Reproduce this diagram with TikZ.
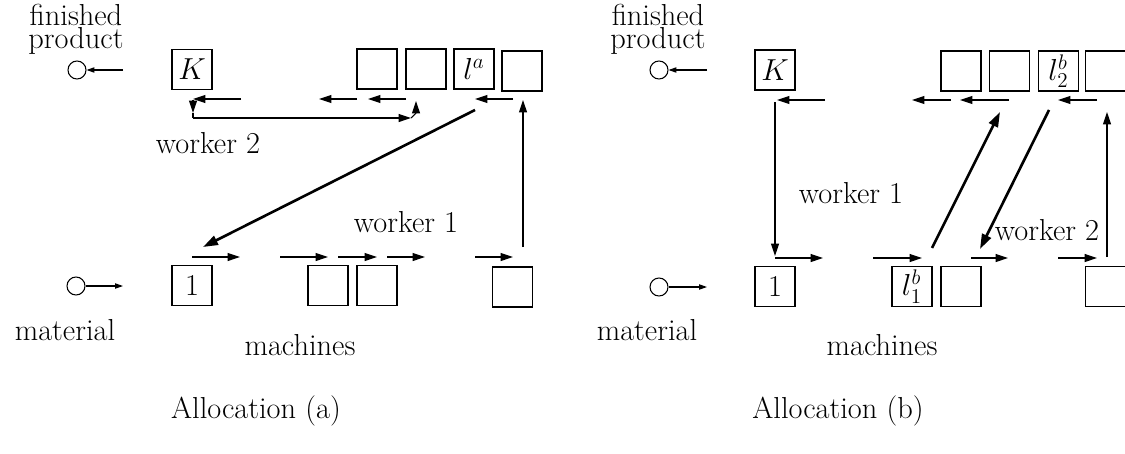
\documentclass[tikz,border=0pt]{standalone}
\usetikzlibrary{arrows.meta}
\newcommand\figfont{\fontsize{17.28}{20}\selectfont}
\tikzset{
  x=0.02cm, y=-0.02cm,
  every node/.style={font=\figfont, inner sep=0pt},
  mbox/.style={draw, line width=0.6pt, minimum size=0.8cm},
  port/.style={draw, line width=0.6pt, circle, minimum size=0.36cm},
  flow/.style={line width=0.6pt, -{Triangle[length=7pt,width=4.5pt]}},
  feed/.style={line width=0.6pt, -{Triangle[length=4.5pt,width=3pt]}},
  walk/.style={line width=1.5pt, -{Triangle[length=8.5pt,width=5.5pt]}},
  plain/.style={line width=0.6pt},
}
\begin{document}
\begin{tikzpicture}
\useasboundingbox (0,0) rectangle (1125,453);
\clip (0,0) rectangle (1125,453);

% ---------------- Allocation (a) ----------------
\node[anchor=base] (fina) at (76,25) {finished};
\node[anchor=base] (proda) at (76,48) {product};
\node[port] (outa) at (77,70) {};
\node[port] (ina) at (76,286) {};
\node[anchor=base] (mata) at (65,340) {material};
\node[anchor=base] (macha) at (300,355) {machines};
\node[anchor=base] (capa) at (256,418) {Allocation (a)};

\node[mbox] (Ka) at (192,69.5) {$K$};
\node[mbox] (ta1) at (377,69) {};
\node[mbox] (ta2) at (426,69) {};
\node[mbox] (ta3) at (474,69) {$l^a$};
\node[mbox] (ta4) at (522,71) {};
\node[mbox] (ba1) at (192,285.5) {1};
\node[mbox] (ba2) at (328,285.5) {};
\node[mbox] (ba3) at (377,285.5) {};
\node[mbox] (ba4) at (512.5,287) {};

\node (w2a) at (208,143) {worker 2};
\node (w1a) at (406,222) {worker 1};

% feed and delivery
\coordinate (outfa) at (123,70);
\coordinate (infa) at (123,286);
\draw[feed] (outfa) -- (outa.east);
\draw[feed] (ina.east) -- (infa);

% material flow, upper row (right to left)
\coordinate (ua1s) at (241,99); \coordinate (ua1e) at (193,99);
\coordinate (ua2s) at (357,99); \coordinate (ua2e) at (319,99);
\coordinate (ua3s) at (406,99); \coordinate (ua3e) at (368,99);
\coordinate (ua4s) at (513,99); \coordinate (ua4e) at (475,99);
\draw[flow] (ua1s) -- (ua1e);
\draw[flow] (ua2s) -- (ua2e);
\draw[flow] (ua3s) -- (ua3e);
\draw[flow] (ua4s) -- (ua4e);

% material flow, lower row (left to right)
\coordinate (la1s) at (192,257); \coordinate (la1e) at (240,257);
\coordinate (la2s) at (280,257); \coordinate (la2e) at (328,257);
\coordinate (la3s) at (338,257); \coordinate (la3e) at (377,257);
\coordinate (la4s) at (387,257); \coordinate (la4e) at (425,257);
\coordinate (la5s) at (475,257); \coordinate (la5e) at (513,257);
\draw[flow] (la1s) -- (la1e);
\draw[flow] (la2s) -- (la2e);
\draw[flow] (la3s) -- (la3e);
\draw[flow] (la4s) -- (la4e);
\draw[flow] (la5s) -- (la5e);

% worker 2 loop
\coordinate (wa0) at (193,100);
\coordinate (wa1) at (193,113);
\coordinate (wa2) at (193,118);
\coordinate (wa3) at (411,118);
\coordinate (wa4) at (416,113);
\coordinate (wa5) at (416,101);
\draw[flow] (wa0) -- (wa1);
\draw[plain] (wa1) -- (wa2);
\draw[flow] (wa2) -- (wa3);
\draw[flow] (wa3) -- (wa4) -- (wa5);

% worker 1 walk back and vertical transfer
\coordinate (da1) at (475,110);
\coordinate (da2) at (203,247);
\draw[walk] (da1) -- (da2);
\coordinate (va1) at (523,247);
\coordinate (va2) at (523,100);
\draw[flow] (va1) -- (va2);

% ---------------- Allocation (b) ----------------
\node[anchor=base] (finb) at (658,25) {finished};
\node[anchor=base] (prodb) at (658,48) {product};
\node[port] (outb) at (659,70) {};
\node[port] (inb) at (659,287) {};
\node[anchor=base] (matb) at (647,340) {material};
\node[anchor=base] (machb) at (882,355) {machines};
\node[anchor=base] (capb) at (838,418) {Allocation (b)};

\node[mbox] (Kb) at (775,70) {$K$};
\node[mbox] (tb1) at (961,71) {};
\node[mbox] (tb2) at (1009.5,71) {};
\node[mbox] (tb3) at (1058.5,71) {$l_2^b$};
\node[mbox] (tb4) at (1105.5,71) {};
\node[mbox] (bb1) at (775,286.5) {1};
\node[mbox] (bb2) at (912,286.5) {$l_1^b$};
\node[mbox] (bb3) at (961,286.5) {};
\node[mbox] (bb4) at (1105.5,286.5) {};

\node (w1b) at (851,193) {worker 1};
\node (w2b) at (1047,230) {worker 2};

\coordinate (outfb) at (707,70);
\coordinate (infb) at (707,287);
\draw[feed] (outfb) -- (outb.east);
\draw[feed] (inb.east) -- (infb);

% upper row
\coordinate (ub1s) at (825,100); \coordinate (ub1e) at (777,100);
\coordinate (ub2s) at (951,100); \coordinate (ub2e) at (912,100);
\coordinate (ub3s) at (1009,100); \coordinate (ub3e) at (960,100);
\coordinate (ub4s) at (1097,100); \coordinate (ub4e) at (1058,100);
\draw[flow] (ub1s) -- (ub1e);
\draw[flow] (ub2s) -- (ub2e);
\draw[flow] (ub3s) -- (ub3e);
\draw[flow] (ub4s) -- (ub4e);

% worker 1 descends to machine 1
\coordinate (wb0) at (775,102);
\coordinate (wb1) at (775,256);
\coordinate (wb2) at (775,258);
\coordinate (wb3) at (823,258);
\draw[flow] (wb0) -- (wb1);
\draw[flow] (wb2) -- (wb3);

% lower row
\coordinate (lb1s) at (873,258); \coordinate (lb1e) at (922,258);
\coordinate (lb2s) at (971,258); \coordinate (lb2e) at (1008,258);
\coordinate (lb3s) at (1058,258); \coordinate (lb3e) at (1097,258);
\draw[flow] (lb1s) -- (lb1e);
\draw[flow] (lb2s) -- (lb2e);
\draw[flow] (lb3s) -- (lb3e);

% crossing walks
\coordinate (db1) at (932,248);
\coordinate (db2) at (1000,112);
\draw[walk] (db1) -- (db2);
\coordinate (db3) at (1049,110);
\coordinate (db4) at (980,249);
\draw[walk] (db3) -- (db4);

\coordinate (vb1) at (1107,257);
\coordinate (vb2) at (1107,112);
\draw[flow] (vb1) -- (vb2);
\end{tikzpicture}
\end{document}
